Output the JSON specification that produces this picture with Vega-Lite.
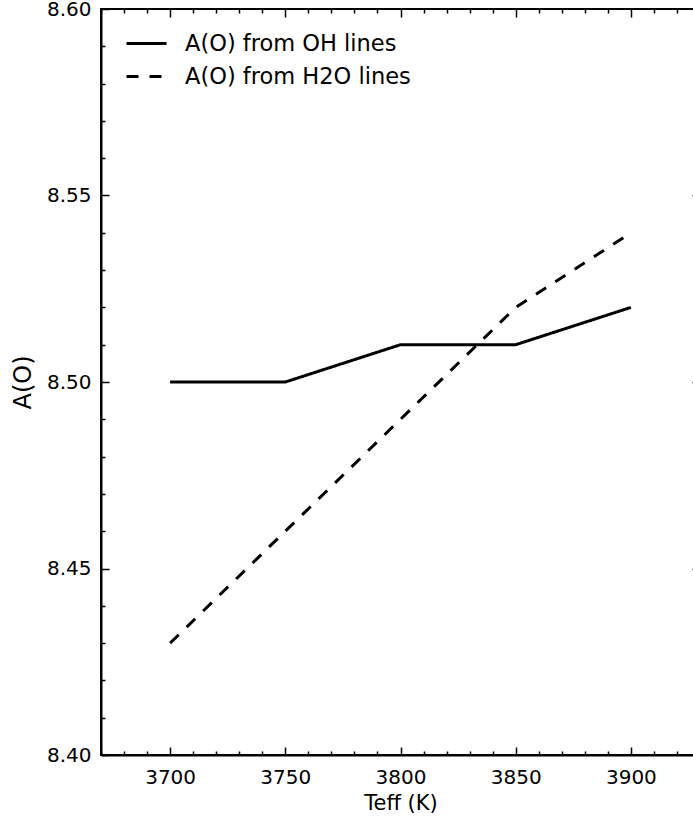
{
  "$schema": "https://vega.github.io/schema/vega-lite/v6.json",
  "autosize": {"type": "none"},
  "padding": {"left": 101, "top": 9, "right": 0, "bottom": 71},
  "width": 599,
  "height": 746,
  "background": "white",
  "config": {
    "view": {"stroke": "black", "strokeWidth": 2},
    "font": "DejaVu Sans",
    "axis": {"grid": false, "domainColor": "black", "domainWidth": 2, "tickColor": "black", "tickWidth": 1.5, "labelColor": "black", "titleColor": "black", "labelFont": "DejaVu Sans", "titleFont": "DejaVu Sans", "labelFontSize": 20, "titleFontSize": 21, "titleFontWeight": "normal"}
  },
  "data": {"values": [
    {"teff": 3700, "ao": 8.50, "series": "A(O) from OH lines"},
    {"teff": 3750, "ao": 8.50, "series": "A(O) from OH lines"},
    {"teff": 3800, "ao": 8.51, "series": "A(O) from OH lines"},
    {"teff": 3850, "ao": 8.51, "series": "A(O) from OH lines"},
    {"teff": 3900, "ao": 8.52, "series": "A(O) from OH lines"},
    {"teff": 3700, "ao": 8.43, "series": "A(O) from H2O lines"},
    {"teff": 3750, "ao": 8.46, "series": "A(O) from H2O lines"},
    {"teff": 3800, "ao": 8.49, "series": "A(O) from H2O lines"},
    {"teff": 3850, "ao": 8.52, "series": "A(O) from H2O lines"},
    {"teff": 3900, "ao": 8.54, "series": "A(O) from H2O lines"}
  ]},
  "resolve": {"axis": {"x": "independent", "y": "independent"}},
  "layer": [
    {
      "mark": {"type": "point", "opacity": 0},
      "encoding": {
        "x": {"field": "teff", "type": "quantitative", "scale": {"domain": [3670, 3930], "nice": false, "zero": false},
              "axis": {"orient": "bottom", "values": [3670,3680,3690,3710,3720,3730,3740,3760,3770,3780,3790,3810,3820,3830,3840,3860,3870,3880,3890,3910,3920,3930], "labels": false, "domain": false, "tickSize": -4, "title": null}},
        "y": {"field": "ao", "type": "quantitative", "scale": {"domain": [8.40, 8.60], "nice": false, "zero": false},
              "axis": {"orient": "left", "values": [8.41,8.42,8.43,8.44,8.46,8.47,8.48,8.49,8.51,8.52,8.53,8.54,8.56,8.57,8.58,8.59], "labels": false, "domain": false, "tickSize": -4, "title": null}}
      }
    },
    {
      "mark": {"type": "point", "opacity": 0},
      "encoding": {
        "x": {"field": "teff", "type": "quantitative",
              "axis": {"orient": "top", "values": [3670,3680,3690,3710,3720,3730,3740,3760,3770,3780,3790,3810,3820,3830,3840,3860,3870,3880,3890,3910,3920,3930], "labels": false, "domain": false, "tickSize": -4, "title": null}},
        "y": {"field": "ao", "type": "quantitative",
              "axis": {"orient": "right", "values": [8.41,8.42,8.43,8.44,8.46,8.47,8.48,8.49,8.51,8.52,8.53,8.54,8.56,8.57,8.58,8.59], "labels": false, "domain": false, "tickSize": -4, "title": null}}
      }
    },
    {
      "mark": {"type": "point", "opacity": 0},
      "encoding": {
        "x": {"field": "teff", "type": "quantitative",
              "axis": {"orient": "top", "values": [3700,3750,3800,3850,3900], "labels": false, "domain": false, "tickSize": -8, "title": null}},
        "y": {"field": "ao", "type": "quantitative",
              "axis": {"orient": "right", "values": [8.40,8.45,8.50,8.55,8.60], "labels": false, "domain": false, "tickSize": -8, "title": null}}
      }
    },
    {
      "mark": {"type": "line", "stroke": "black", "strokeWidth": 3},
      "encoding": {
        "x": {"field": "teff", "type": "quantitative",
              "axis": {"orient": "bottom", "values": [3700,3750,3800,3850,3900], "format": "d", "tickSize": -8, "labelPadding": 20, "title": "Teff (K)", "titlePadding": 5}},
        "y": {"field": "ao", "type": "quantitative",
              "axis": {"orient": "left", "values": [8.40,8.45,8.50,8.55,8.60], "format": ".2f", "tickSize": -8, "labelPadding": 18, "title": "A(O)", "titleFontSize": 24, "titlePadding": 11}},
        "strokeDash": {"field": "series", "type": "nominal",
              "scale": {"domain": ["A(O) from OH lines", "A(O) from H2O lines"], "range": [[1, 0], [12, 11]]},
              "legend": {"title": null, "orient": "none", "legendX": 24, "legendY": 13, "padding": 0, "symbolType": "stroke", "symbolSize": 1600, "symbolStrokeWidth": 3, "symbolStrokeColor": "black", "labelFontSize": 22.5, "labelFont": "DejaVu Sans", "labelColor": "black", "labelOffset": 17, "labelLimit": 400, "rowPadding": -8}}
      }
    }
  ]
}
